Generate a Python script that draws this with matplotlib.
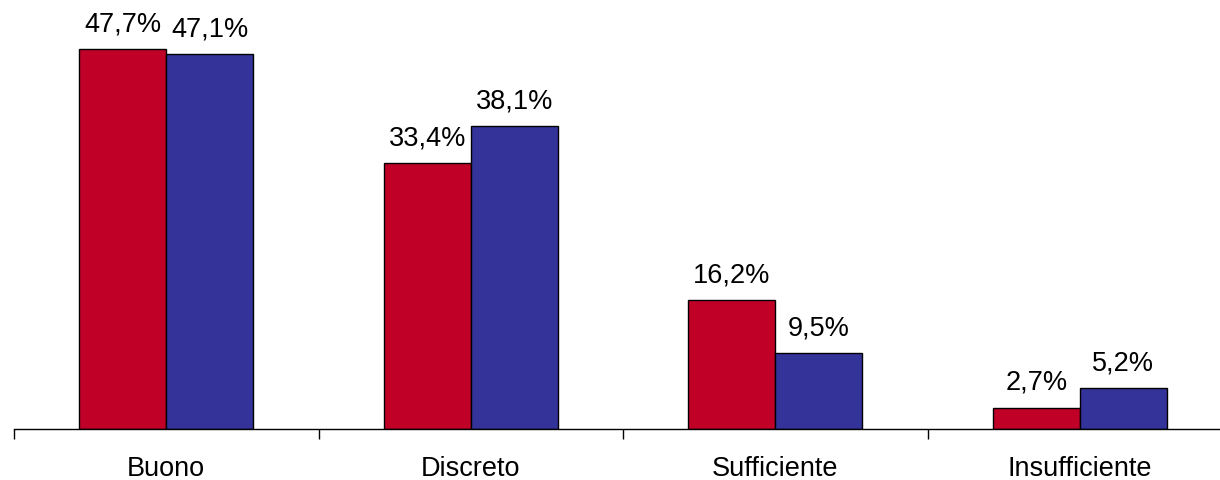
import numpy as np
import matplotlib.pyplot as plt

plt.rcParams['font.family'] = ['Liberation Sans', 'DejaVu Sans']

categories = ["Buono", "Discreto", "Sufficiente", "Insufficiente"]
serie_rossa = [47.7, 33.4, 16.2, 2.7]
serie_blu = [47.1, 38.1, 9.5, 5.2]

rosso = "#C00027"
blu = "#333399"

fig = plt.figure(figsize=(12.2, 4.81), dpi=100)
# axes run slightly past the right edge, as in the original
ax = fig.add_axes([14 / 1220, 51 / 481, 1218 / 1220, 430 / 481])

x = np.arange(len(categories))
w = 0.286
b1 = ax.bar(x - w / 2, serie_rossa, w, color=rosso, edgecolor="black", linewidth=1)
b2 = ax.bar(x + w / 2, serie_blu, w, color=blu, edgecolor="black", linewidth=1)

def fmt(v):
    return f"{v:.1f}".replace(".", ",") + "%"

for bars, vals in ((b1, serie_rossa), (b2, serie_blu)):
    for bar, v in zip(bars, vals):
        ax.annotate(fmt(v), (bar.get_x() + bar.get_width() / 2, v),
                    xytext=(0, 9), textcoords="offset points",
                    ha="center", va="bottom", fontsize=19.5)

ax.set_xlim(-0.5, 3.5)
ax.set_ylim(0, 54)
ax.set_yticks([])
for s in ("left", "right", "top"):
    ax.spines[s].set_visible(False)
ax.spines["bottom"].set_linewidth(1)

ax.set_xticks(x)
ax.set_xticklabels(categories, fontsize=19.5)
ax.tick_params(axis="x", which="major", length=0, pad=19)
ax.set_xticks(np.arange(-0.5, 4, 1), minor=True)
ax.tick_params(axis="x", which="minor", length=7, width=1, direction="out")

fig.savefig("out.png", dpi=100)
